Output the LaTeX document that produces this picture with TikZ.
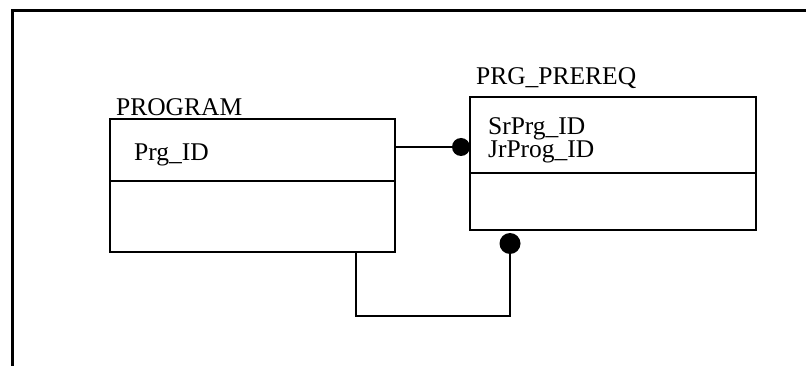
\documentclass[tikz,border=0pt]{standalone}
\usepackage{fontspec}
\setmainfont{Liberation Serif}
\begin{document}
\begin{tikzpicture}[x=1pt,y=-1pt,
  line width=2.2pt,
  ent/.style={draw, rectangle, inner sep=0pt, outer sep=0pt, anchor=north west},
  lbl/.style={anchor=base west, inner sep=0pt, font=\fontsize{25.5}{25.5}\selectfont},
  dot/.style={circle, fill=black, draw=none, inner sep=0pt, outer sep=0pt},
  frame/.style={line width=3pt}]
\useasboundingbox (0,0) rectangle (806,366);
% outer frame
\coordinate (ftl) at (12,11);
\coordinate (ftr) at (806,11);
\coordinate (fbl) at (12,366);
\draw[frame] (ftr) -- (ftl) -- (fbl);
% PROGRAM entity
\node[ent, minimum width=285, minimum height=133] (prog) at (110,119) {};
\draw (110,181) -- (395,181);
\node[lbl] (progname) at (115,116) {PROGRAM};
\node[lbl] (progattr) at (133,161) {Prg\_ID};
% PRG_PREREQ entity
\node[ent, minimum width=286, minimum height=133] (pre) at (470,97) {};
\draw (470,173) -- (756,173);
\node[lbl] (prename) at (475,85) {PRG\_PREREQ};
\node[lbl] (preattr1) at (487,135) {SrPrg\_ID};
\node[lbl] (preattr2) at (487,158) {JrProg\_ID};
% relationship 1
\node[dot, minimum size=18] (d1) at (461,147) {};
\draw (prog.east |- d1) -- (d1);
% relationship 2
\node[dot, minimum size=21] (d2) at (510,243.5) {};
\coordinate (c) at (356,316);
\draw (d2) |- (c) -- (c |- prog.south);
\end{tikzpicture}
\end{document}
